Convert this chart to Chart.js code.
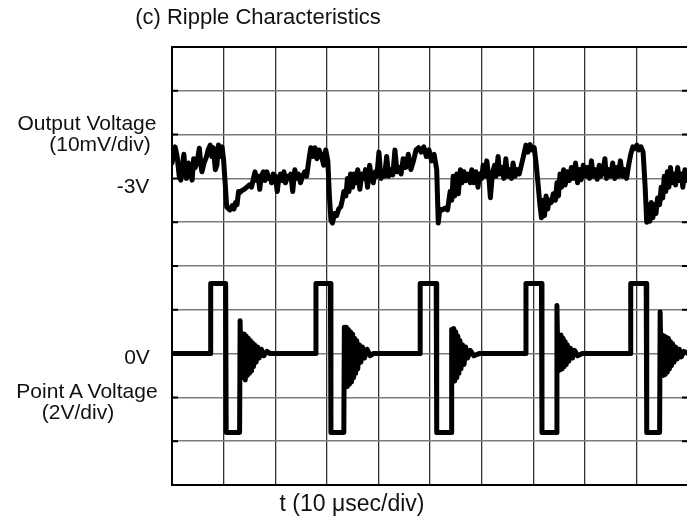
<!DOCTYPE html>
<html>
<head>
<meta charset="utf-8">
<script src="https://cdn.jsdelivr.net/npm/chart.js@4.4.1/dist/chart.umd.min.js"></script>
<style>
  html, body { margin: 0; padding: 0; background: #fff; }
  #wrap { position: relative; width: 687px; height: 519px; overflow: hidden; }
  #scope { position: absolute; left: 0; top: 0; }
  .lbl {
    position: absolute;
    font-family: "Liberation Sans", Arial, sans-serif;
    font-size: 21px;
    line-height: 1;
    color: #111;
    white-space: nowrap;
    transform: translate(-50%, -50%);
  }
</style>
</head>
<body>
<div id="wrap">
  <canvas id="scope" width="700" height="519"></canvas>
  <div class="lbl" style="left:258px;top:17px;font-size:22px">(c) Ripple Characteristics</div>
  <div class="lbl" style="left:87px;top:122px">Output Voltage</div>
  <div class="lbl" style="left:100px;top:143px">(10mV/div)</div>
  <div class="lbl" style="left:133px;top:185px">-3V</div>
  <div class="lbl" style="left:137px;top:356px">0V</div>
  <div class="lbl" style="left:87px;top:390px">Point A Voltage</div>
  <div class="lbl" style="left:78px;top:411px">(2V/div)</div>
  <div class="lbl" style="left:352px;top:503px;font-size:23px">t (10 &mu;sec/div)</div>
</div>
<script>
// output ripple, mV around -3V, time in usec
var outTime = [
  0, 0.6, 1.0, 1.4, 1.7, 2.0, 2.3, 2.6, 2.8, 3.2, 3.5, 3.9, 4.2, 4.5, 4.9, 5.3, 5.6, 5.8, 6.2, 6.7,
  7.0, 7.4, 7.7, 8.0, 8.4, 8.7, 9.0, 9.4, 9.7, 10.0, 10.3, 10.6, 11.2, 11.7, 12.0, 12.3, 12.6, 12.9, 13.2, 13.5,
  14.0, 14.5, 15.0, 15.4, 15.8, 16.1, 16.4, 16.7, 17.0, 17.3, 17.7, 18.0, 18.4, 18.7, 19.0, 19.3, 19.6, 20.0, 20.4, 20.7,
  21.0, 21.4, 21.7, 22.0, 22.4, 22.7, 23.0, 23.4, 23.8, 24.1, 24.5, 24.9, 25.3, 25.7, 26.1, 26.5, 26.9, 27.3, 27.7, 28.1,
  28.5, 29.0, 29.4, 29.8, 30.2, 30.5, 30.8, 31.1, 31.5, 31.9, 32.3, 32.7, 33.0, 33.3, 33.7, 34.0, 34.3, 34.6, 35.0, 35.3,
  35.7, 36.0, 36.4, 36.8, 37.2, 37.5, 37.9, 38.3, 38.6, 39.0, 39.4, 39.7, 40.1, 40.5, 40.9, 41.2, 41.6, 42.0, 42.4, 42.8,
  43.2, 43.6, 44.0, 44.4, 44.8, 45.3, 45.8, 46.3, 46.8, 47.3, 47.8, 48.3, 48.8, 49.3, 49.8, 50.3, 50.8, 51.3, 51.6, 51.9,
  52.4, 52.9, 53.4, 53.9, 54.2, 54.5, 54.8, 55.2, 55.5, 55.9, 56.2, 56.6, 57.0, 57.4, 57.8, 58.1, 58.5, 58.9, 59.3, 59.6,
  60.0, 60.3, 60.7, 61.0, 61.4, 61.7, 62.1, 62.5, 62.8, 63.2, 63.5, 63.9, 64.3, 64.7, 65.0, 65.4, 65.8, 66.1, 66.5, 66.9,
  67.3, 67.7, 68.1, 68.6, 69.0, 69.4, 69.8, 70.2, 70.6, 71.0, 71.3, 71.6, 71.9, 72.2, 72.5, 72.8, 73.1, 73.5, 73.9, 74.3,
  74.6, 74.9, 75.2, 75.5, 75.9, 76.2, 76.6, 77.0, 77.4, 77.8, 78.2, 78.6, 79.0, 79.3, 79.7, 80.1, 80.5, 80.9, 81.3, 81.6,
  82.0, 82.4, 82.8, 83.1, 83.5, 83.9, 84.2, 84.6, 85.0, 85.4, 85.8, 86.2, 86.5, 86.9, 87.3, 87.7, 88.1, 88.5, 88.9, 89.3,
  89.7, 90.1, 90.5, 90.9, 91.3, 91.7, 92.0, 92.3, 92.6, 92.9, 93.2, 93.5, 93.8, 94.1, 94.5, 94.8, 95.1, 95.4, 95.7, 96.0,
  96.3, 96.6, 96.9, 97.3, 97.6, 98.0, 98.3, 98.7, 99.0, 99.4, 99.8, 100
];
var outRipple = [
  3.5, 7.2, 5.0, 0.5, -0.4, 3.0, 5.5, 1.0, 0.0, 3.5, 2.0, -0.4, 4.5, 2.5, 4.0, 6.9, 3.0, 1.5, 3.5, 5.0,
  6.5, 7.6, 5.0, 7.0, 2.0, 3.0, 7.6, 5.0, 7.2, 4.2, -1.0, -6.5, -7.2, -6.2, -7.0, -5.5, -6.0, -3.0, -3.2, -2.8,
  -2.5, -2.0, -1.5, -2.0, 0.0, 1.5, -0.5, 0.5, -2.5, 0.5, 1.5, -0.5, 1.5, 0.0, 0.3, -1.0, 1.0, 0.5, -3.0, 0.0,
  1.0, -0.5, 1.5, -1.0, 0.5, 0.0, 1.0, -3.0, 2.0, 0.0, 1.0, -1.0, 0.5, 1.5, 0.5, 4.0, 7.0, 5.0, 7.0, 4.5,
  6.5, 5.0, 3.0, 6.5, 4.0, -4.0, -9.5, -10.2, -8.0, -8.5, -7.0, -6.5, -5.0, -3.0, -4.0, 0.0, -3.0, 1.0, -2.0, 1.0,
  -1.0, 2.0, -2.5, 1.0, 0.0, 2.0, -2.0, 3.0, 0.5, -1.0, 1.5, 0.5, 6.0, 0.0, 1.5, 0.5, 5.0, 0.5, 2.0, 0.8,
  6.5, 1.5, 2.5, 1.0, 4.5, 2.5, 5.5, 2.0, 4.0, 6.5, 7.0, 6.0, 7.2, 5.0, 6.5, 4.0, 5.5, 2.0, -10.2, -7.0,
  -7.2, -6.8, -7.2, -3.0, -5.0, 0.5, -4.0, 1.0, -3.5, 2.0, -1.0, 1.5, -0.5, 1.0, -1.0, 2.0, -1.0, 1.5, -2.0, 1.0,
  0.0, 3.0, 0.5, 4.0, 0.5, -4.4, 1.0, 3.0, 0.5, 5.0, 1.0, 2.5, 0.0, 4.5, 0.5, 2.0, 0.0, 3.5, 0.5, 2.0,
  1.0, 3.0, 5.0, 7.6, 6.0, 7.7, 6.5, 7.0, 3.0, -2.0, -6.0, -9.0, -5.0, -8.5, -4.0, -7.0, -5.0, -5.5, -3.5, -5.0,
  -1.0, -4.0, 1.0, -2.0, 2.0, -1.5, 1.5, -0.5, 2.5, 0.0, 3.5, -1.0, 2.0, -0.3, 3.0, 0.5, 2.5, 0.0, 4.0, 0.5,
  2.0, -0.2, 3.0, 0.5, 1.5, 4.5, 0.0, 2.0, 0.5, 3.5, 0.0, 2.5, 0.5, 4.0, 0.5, 2.0, 0.0, 3.0, 5.5, 7.2,
  6.8, 7.6, 6.5, 7.2, 6.0, -2.0, -10.0, -6.0, -9.8, -5.5, -9.0, -6.0, -8.0, -4.5, -6.0, -2.0, -4.5, 0.5, -3.0, 1.5,
  -2.0, 2.5, -1.0, 1.0, -1.5, 2.5, -0.5, 1.0, -2.0, 2.0, -0.5, 0.5
];

// point A, volts, time in usec
var ptaTime = [
  0, 7.5, 7.5, 10.4, 10.5, 13.1, 13.2, 13.4, 13.6, 13.8, 14.0, 14.2, 14.4, 14.6, 14.8, 15.0, 15.2, 15.4, 15.6, 15.8,
  16.0, 16.3, 16.6, 16.9, 17.3, 17.8, 18.4, 19.0,
  27.9, 27.9, 30.7, 30.8, 33.3, 33.4, 33.6, 33.8, 34.0, 34.2, 34.4, 34.6, 34.8, 35.0, 35.2, 35.4, 35.6, 35.8, 36.0, 36.3,
  36.6, 36.9, 37.3, 37.8, 38.4, 39.0,
  48.1, 48.1, 51.2, 51.3, 54.1, 54.2, 54.4, 54.6, 54.8, 55.0, 55.2, 55.4, 55.6, 55.8, 56.0, 56.3, 56.6, 56.9, 57.3, 57.8,
  58.5, 59.5,
  68.6, 68.6, 71.6, 71.7, 74.5, 74.6, 74.8, 75.0, 75.2, 75.4, 75.6, 75.8, 76.0, 76.2, 76.4, 76.6, 76.9, 77.2, 77.6, 78.0,
  78.6, 79.5,
  88.9, 88.9, 91.9, 92.0, 94.5, 94.6, 94.8, 95.0, 95.2, 95.4, 95.6, 95.8, 96.0, 96.2, 96.4, 96.6, 96.8, 97.0, 97.3, 97.6,
  97.9, 98.3, 98.7, 99.2, 100
];
var ptaVolt = [
  0, 0, 3.2, 3.2, -3.6, -3.6, 1.5, -1.0, 0.9, -1.1, 0.9, -1.2, 0.8, -1.0, 0.7, -0.9, 0.6, -0.8, 0.5, -0.6,
  0.4, -0.4, 0.3, -0.2, 0.2, -0.1, 0.1, 0,
  0, 3.2, 3.2, -3.6, -3.6, 1.2, -1.5, 1.2, -1.5, 1.1, -1.4, 1.0, -1.3, 0.9, -1.1, 0.7, -0.9, 0.6, -0.7, 0.4,
  -0.4, 0.3, -0.2, 0.2, -0.1, 0,
  0, 3.2, 3.2, -3.6, -3.6, 1.1, -1.3, 1.15, -1.25, 1.0, -1.1, 0.8, -0.9, 0.6, -0.7, 0.4, -0.5, 0.3, -0.2, 0.15,
  -0.1, 0,
  0, 3.2, 3.2, -3.6, -3.6, 2.2, -0.8, 0.8, -0.75, 0.85, -0.7, 0.7, -0.6, 0.55, -0.5, 0.4, -0.35, 0.25, -0.2, 0.15,
  -0.1, 0,
  0, 3.2, 3.2, -3.6, -3.6, 1.9, -1.0, 0.85, -1.0, 0.8, -0.95, 0.75, -0.85, 0.7, -0.7, 0.55, -0.55, 0.45, -0.4, 0.3,
  -0.25, 0.2, -0.15, 0.1, 0
];

function pts(xs, ys) {
    return xs.map(function(x, i) { return { x: x, y: ys[i] }; });
}

// short dark marks on the inside of the frame at each horizontal division
var edgeTicks = {
    id: 'edgeTicks',
    beforeDatasetsDraw: function(chart) {
        var ctx = chart.ctx, area = chart.chartArea, y = chart.scales.yOut;
        ctx.save();
        ctx.strokeStyle = '#000';
        ctx.lineWidth = 2;
        y.ticks.forEach(function(t) {
            var py = y.getPixelForValue(t.value);
            ctx.beginPath();
            ctx.moveTo(area.left, py);
            ctx.lineTo(area.left + 6, py);
            ctx.moveTo(area.right - 6, py);
            ctx.lineTo(area.right, py);
            ctx.stroke();
        });
        ctx.restore();
    }
};

var ctx = document.getElementById('scope').getContext('2d');
new Chart(ctx, {
    type: 'line',
    data: {
        datasets: [{
            label: 'Output Voltage',
            data: pts(outTime, outRipple),
            yAxisID: 'yOut',
            borderColor: '#000',
            borderWidth: 5
        }, {
            label: 'Point A Voltage',
            data: pts(ptaTime, ptaVolt),
            yAxisID: 'yA',
            borderColor: '#000',
            borderWidth: 5
        }]
    },
    options: {
        responsive: false,
        animation: false,
        devicePixelRatio: 1,
        layout: { padding: { left: 172, top: 47, right: 12, bottom: 34 } },
        elements: {
            point: { radius: 0 },
            line: { tension: 0, borderJoinStyle: 'round', borderCapStyle: 'round', fill: false }
        },
        plugins: { legend: { display: false }, tooltip: { enabled: false }, title: { display: false } },
        scales: {
            x: {
                type: 'linear',
                min: 0,
                max: 100,
                ticks: { display: false, stepSize: 10 },
                grid: {
                    drawTicks: false,
                    lineWidth: 1.3,
                    color: function(c) { return (c.index === 0 || c.index === 10) ? '#000' : '#333'; }
                },
                border: { display: true, color: '#000', width: 2 }
            },
            yOut: {
                position: 'left',
                min: -70,
                max: 30,
                ticks: { display: false, stepSize: 10 },
                grid: {
                    drawTicks: false,
                    lineWidth: function(c) { return (c.index === 0 || c.index === 10) ? 2 : 1.5; },
                    color: function(c) { return (c.index === 0 || c.index === 10) ? '#000' : '#7a7a7a'; }
                },
                border: { display: true, color: '#000', width: 2 }
            },
            yA: {
                display: false,
                min: -6,
                max: 14
            }
        }
    },
    plugins: [edgeTicks]
});
</script>
</body>
</html>
